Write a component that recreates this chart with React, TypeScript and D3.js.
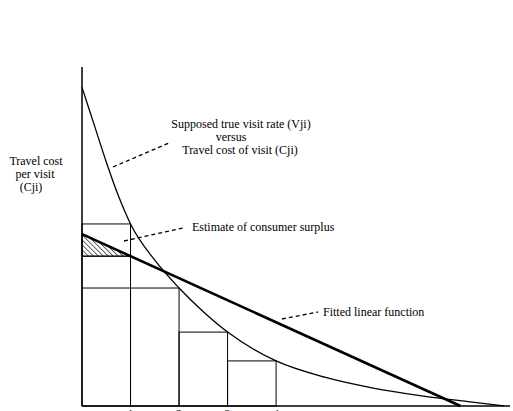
import React from "react";
import * as d3 from "d3";

// Supposed true visit-rate curve (x = visit rate units, y = travel cost)
const curveX = [0, 0.25, 0.5, 0.75, 1, 1.5, 2, 2.5, 3, 4, 5, 6, 7, 8, 8.7];
const curveY = [94, 83, 72, 62, 53.7, 43, 34.8, 27.8, 21.8, 13.3, 8.5, 5.3, 3.0, 1.2, 0];
// Step bars (zone observations)
const barStart = [0, 1, 2, 3];
const barHeight = [53.7, 34.8, 21.8, 13.3];
// Fitted linear function
const fitX = [0, 7.8];
const fitY = [50.7, 0];
const ticks = [1, 2, 3, 4];
const tickLabels = ["1", "2", "3", "4"];

export default function App() {
  const x = d3.scaleLinear().domain([0, 8.8]).range([82, 509]);
  const y = d3.scaleLinear().domain([0, 100]).range([406, 67]);
  const line = d3
    .line<[number, number]>()
    .x((d) => x(d[0]))
    .y((d) => y(d[1]));
  const curvePts: [number, number][] = curveX.map((v, i) => [v, curveY[i]]);
  const curvePath = d3
    .line<[number, number]>()
    .x((d) => x(d[0]))
    .y((d) => y(d[1]))
    .curve(d3.curveMonotoneX)(curvePts);
  const fitPts: [number, number][] = fitX.map((v, i) => [v, fitY[i]]);
  const fitAt1 = fitY[0] + ((fitY[1] - fitY[0]) / (fitX[1] - fitX[0])) * 1;
  const tri: [number, number][] = [
    [0, fitY[0]],
    [1, fitAt1],
    [0, fitAt1],
  ];
  const font = "'Liberation Serif', 'Times New Roman', serif";
  return (
    <svg
      width={513}
      height={411}
      style={{ position: "absolute", left: 0, top: 0 }}
      fontFamily={font}
    >
      <rect width={513} height={411} fill="#fff" />
      <defs>
        <pattern id="hatch" patternUnits="userSpaceOnUse" width={3.5} height={3.5} patternTransform="rotate(-45)">
          <line x1={0} y1={0} x2={0} y2={3.5} stroke="#000" strokeWidth={1.2} />
        </pattern>
      </defs>
      {/* bars */}
      {barStart.map((b, i) => (
        <rect
          key={i}
          x={x(b)}
          y={y(barHeight[i])}
          width={x(b + 1) - x(b)}
          height={y(0) - y(barHeight[i])}
          fill="none"
          stroke="#000"
          strokeWidth={1}
        />
      ))}
      {/* inner horizontal lines in bar 1 */}
      <line x1={x(0)} x2={x(1)} y1={y(barHeight[1])} y2={y(barHeight[1])} stroke="#000" strokeWidth={1} />
      <line x1={x(0)} x2={x(1)} y1={y(fitAt1)} y2={y(fitAt1)} stroke="#000" strokeWidth={1} />
      {/* hatched triangle */}
      <path d={line(tri) + "Z"} fill="url(#hatch)" stroke="#000" strokeWidth={1} />
      {/* curve */}
      <path d={curvePath || ""} fill="none" stroke="#000" strokeWidth={1.3} />
      {/* fitted line */}
      <path d={line(fitPts) || ""} fill="none" stroke="#000" strokeWidth={2.6} />
      {/* axes */}
      <line x1={82} x2={82} y1={67} y2={406} stroke="#000" strokeWidth={1.5} />
      <line x1={82} x2={510} y1={406} y2={406} stroke="#000" strokeWidth={1.5} />
      {ticks.map((t, i) => (
        <text key={t} x={x(t)} y={418} fontSize={12} textAnchor="middle">
          {tickLabels[i]}
        </text>
      ))}
      {/* y label */}
      <g fontSize={12} textAnchor="middle">
        <text x={36} y={165}>Travel cost</text>
        <text x={35} y={178}>per visit</text>
        <text x={31} y={191}>(Cji)</text>
      </g>
      {/* curve label */}
      <g fontSize={12} textAnchor="middle">
        <text x={241} y={128}>Supposed true visit rate (Vji)</text>
        <text x={231} y={141}>versus</text>
        <text x={240} y={154}>Travel cost of visit (Cji)</text>
      </g>
      <line x1={113} y1={167} x2={169} y2={143} stroke="#000" strokeWidth={1.3} strokeDasharray="4,3" />
      {/* consumer surplus label */}
      <text x={192} y={231} fontSize={12}>Estimate of consumer surplus</text>
      <line x1={124} y1={241} x2={183} y2={228} stroke="#000" strokeWidth={1.3} strokeDasharray="4,3" />
      {/* fitted label */}
      <text x={323} y={316} fontSize={12}>Fitted linear function</text>
      <line x1={282} y1={319} x2={318} y2={312} stroke="#000" strokeWidth={1.3} strokeDasharray="4,3" />
    </svg>
  );
}
